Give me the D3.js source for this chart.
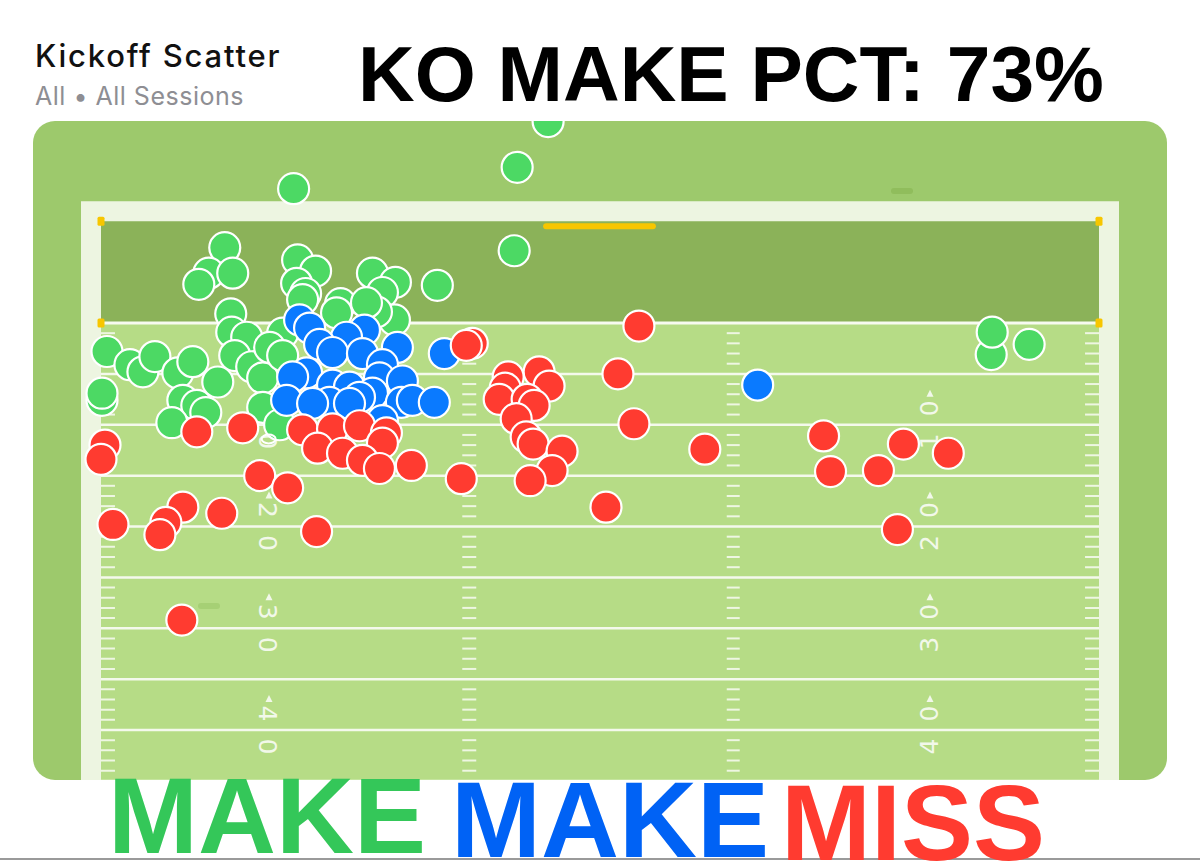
<!DOCTYPE html>
<html>
<head>
<meta charset="utf-8">
<style>
  html, body { margin: 0; padding: 0; background: #fff; }
  svg { display: block; }
</style>
</head>
<body>
<div id="chart"></div>
<script src="https://cdn.jsdelivr.net/npm/d3@7"></script>
<script>
// x = lateral spot, % of field width from the left sideline
// y = depth in yards from the goal line (negative = end zone and beyond)
const makeGreen = [
  [44.8, -19.8], [41.7, -15.3], [19.3, -13.2], [41.4, -7.1], [12.4, -7.4],
  [10.8, -4.9], [13.2, -4.9], [9.8, -3.8], [19.7, -6.2], [21.5, -5.1],
  [19.6, -3.9], [20.5, -2.9], [27.2, -4.9], [29.5, -4.0], [28.2, -3.0],
  [33.7, -3.7], [13.0, -0.9], [24.0, -1.9], [29.4, -0.3], [27.6, -1.1],
  [20.2, -2.3], [26.6, -2.0], [23.6, -1.0],
  [13.1, 0.9], [14.6, 1.4], [0.6, 2.8], [2.9, 4.1], [4.2, 4.8], [5.4, 3.3],
  [7.7, 4.9], [9.2, 3.8], [11.7, 5.8], [13.4, 3.2], [15.1, 4.3], [16.2, 5.4],
  [18.2, 1.0], [16.9, 2.4], [18.2, 3.2], [0.1, 7.6], [0.1, 6.9], [8.2, 7.6],
  [9.6, 8.1], [10.5, 8.8], [7.1, 9.8], [16.2, 8.3], [17.9, 10.0],
  [89.2, 3.1], [89.3, 0.9], [93.0, 2.1]
]

const makeBlue = [
  [19.9, -0.3], [20.9, 0.5], [26.4, 0.7], [24.6, 1.4], [29.7, 2.4], [21.9, 2.1],
  [23.2, 2.9], [26.2, 3.0], [28.2, 4.1], [34.4, 3.0], [20.6, 4.9], [19.2, 5.3],
  [27.9, 5.4], [23.2, 6.1], [24.9, 6.3], [30.2, 5.7], [27.2, 6.9], [25.9, 7.3],
  [18.6, 7.6], [22.9, 7.8], [21.2, 7.9], [24.9, 7.9], [30.1, 7.8], [31.2, 7.6],
  [33.4, 7.8], [28.2, 9.6], [65.8, 6.1]
]

const missRed = [
  [37.2, 2.0], [36.6, 2.2], [53.9, 0.3], [9.6, 10.7], [14.2, 10.3], [20.2, 10.5],
  [23.2, 10.4], [25.9, 10.1], [28.6, 10.8], [28.2, 11.8], [21.7, 12.3],
  [24.2, 12.8], [26.2, 13.5], [27.9, 14.3], [31.1, 14.0], [0.4, 12.0],
  [0.0, 13.4], [15.9, 15.0], [18.7, 16.2], [8.2, 18.1], [6.5, 19.6], [5.9, 20.8],
  [1.2, 19.8], [12.1, 18.7], [21.6, 20.5], [8.1, 29.2], [36.1, 15.3],
  [51.8, 5.0], [53.4, 9.9], [60.5, 12.4], [50.6, 18.1], [43.9, 4.8],
  [40.8, 5.3], [44.9, 6.2], [40.5, 6.4], [39.9, 7.5], [42.7, 7.5], [43.4, 8.1],
  [41.6, 9.4], [42.6, 11.2], [43.3, 11.9], [46.2, 12.6], [45.2, 14.5],
  [43.0, 15.5], [72.4, 11.1], [73.1, 14.6], [80.4, 11.9], [77.9, 14.5],
  [84.9, 12.8], [79.8, 20.3]
]

const yardNumbers = [10, 20, 30, 40]
const legendLabels = ['MAKE', 'MAKE', 'MISS']
const chartTitle = 'Kickoff Scatter'
const chartSubtitle = 'All \u2022 All Sessions'
const headline = 'KO MAKE PCT: 73%'

const width = 1200
const height = 861

const svg = d3.select('#chart').append('svg')
  .attr('width', width)
  .attr('height', height)

// scales
const x = d3.scaleLinear().domain([0, 100]).range([101, 1099])
const y = d3.scaleLinear().domain([0, 40]).range([323, 730])

const turf = { x: 33, y: 121, w: 1134, h: 659, r: 22 }
const fieldBottom = turf.y + turf.h

svg.append('defs').append('clipPath').attr('id', 'turf-clip')
  .append('rect')
  .attr('x', turf.x).attr('y', turf.y)
  .attr('width', turf.w).attr('height', turf.h)
  .attr('rx', turf.r)

// field
svg.append('rect')
  .attr('x', turf.x).attr('y', turf.y)
  .attr('width', turf.w).attr('height', turf.h)
  .attr('rx', turf.r)
  .attr('fill', '#9dc96c')

const field = svg.append('g').attr('clip-path', 'url(#turf-clip)')

// sideline / end line border
field.append('rect')
  .attr('x', x(0) - 20).attr('y', y(-10) - 20)
  .attr('width', x(100) - x(0) + 40)
  .attr('height', fieldBottom - y(-10) + 20)
  .attr('fill', '#edf5e1')

field.append('rect')
  .attr('x', x(0)).attr('y', y(-10))
  .attr('width', x(100) - x(0)).attr('height', y(0) - y(-10))
  .attr('fill', '#8bb259')

field.append('rect')
  .attr('x', x(0)).attr('y', y(0))
  .attr('width', x(100) - x(0)).attr('height', fieldBottom - y(0))
  .attr('fill', '#b6dc86')

// little markers on the turf
field.append('rect')
  .attr('x', 891).attr('y', 188).attr('width', 22).attr('height', 6).attr('rx', 3)
  .attr('fill', '#90bd5c')
field.append('rect')
  .attr('x', 198).attr('y', 603).attr('width', 22).attr('height', 6).attr('rx', 3)
  .attr('fill', '#a6d075')

// yard lines
field.selectAll('line.yard')
  .data(d3.range(5, 50, 5))
  .enter()
  .append('line')
  .attr('class', 'yard')
  .attr('x1', x(0)).attr('x2', x(100))
  .attr('y1', d => y(d)).attr('y2', d => y(d))
  .attr('stroke', '#f4f9ec')
  .attr('stroke-width', 2.5)

field.append('line')
  .attr('x1', x(0)).attr('x2', x(100))
  .attr('y1', y(0)).attr('y2', y(0))
  .attr('stroke', '#f7fbf1')
  .attr('stroke-width', 3)

// hash marks
const hashCols = [[0, 1.4], [36.2, 37.6], [62.7, 64.0], [98.6, 100]]
const hashYards = d3.range(1, 46).filter(d => d % 5 !== 0)
hashCols.forEach(([a, b]) => {
  field.append('g').selectAll('line')
    .data(hashYards)
    .enter()
    .append('line')
    .attr('x1', x(a)).attr('x2', x(b))
    .attr('y1', d => y(d)).attr('y2', d => y(d))
    .attr('stroke', '#eef6e2')
    .attr('stroke-width', 2)
})

// yard numbers, left reads downward, right reads upward
const numberSides = [
  { cx: 268, rot: 90 },
  { cx: 929, rot: -90 }
]
numberSides.forEach(side => {
  const g = field.append('g')
  const nums = g.selectAll('text')
    .data(yardNumbers)
    .enter()
    .append('text')
    .attr('transform', d => `translate(${side.cx}, ${y(d)}) rotate(${side.rot})`)
    .attr('text-anchor', 'middle')
    .attr('dominant-baseline', 'central')
    .attr('font-family', 'DejaVu Sans, sans-serif')
    .attr('font-size', 25)
    .attr('fill', '#f2f8ea')
  nums.append('tspan').text(d => String(d)[0])
  nums.append('tspan').attr('dx', 17).text(d => String(d)[1])

  g.selectAll('path')
    .data(yardNumbers)
    .enter()
    .append('path')
    .attr('transform', d => `translate(${side.cx + 1}, ${y(d) - 31})`)
    .attr('d', 'M0,-4 L3.5,3 L-3.5,3 Z')
    .attr('fill', '#f2f8ea')
})

// goal post
field.append('rect')
  .attr('x', x(44.3)).attr('y', y(-10) + 2)
  .attr('width', x(55.6) - x(44.3)).attr('height', 6)
  .attr('rx', 3)
  .attr('fill', '#f7c600')

// pylons
const pylons = [[0, -10], [0, 0], [100, -10], [100, 0]]
field.selectAll('rect.pylon')
  .data(pylons)
  .enter()
  .append('rect')
  .attr('class', 'pylon')
  .attr('x', d => x(d[0]) - 3.5).attr('y', d => y(d[1]) - 4.5)
  .attr('width', 7).attr('height', 9).attr('rx', 1.5)
  .attr('fill', '#f7c600')

// kicks
const series = [
  { data: makeGreen, color: '#4cd964' },
  { data: makeBlue, color: '#0a7aff' },
  { data: missRed, color: '#ff3b30' }
]
series.forEach(s => {
  field.append('g').selectAll('circle')
    .data(s.data)
    .enter()
    .append('circle')
    .attr('cx', d => x(d[0]))
    .attr('cy', d => y(d[1]))
    .attr('r', 15.5)
    .attr('fill', s.color)
    .attr('stroke', '#fff')
    .attr('stroke-width', 2.2)
})

// small ball ring
field.append('ellipse')
  .attr('cx', x(16.8)).attr('cy', y(11.4))
  .attr('rx', 7).attr('ry', 4.5)
  .attr('fill', 'none')
  .attr('stroke', '#fff')
  .attr('stroke-width', 2)

// header texts
svg.append('text')
  .attr('x', 35).attr('y', 67)
  .attr('font-family', 'Inter, Roboto, sans-serif')
  .attr('font-weight', 500)
  .attr('font-size', 31)
  .attr('letter-spacing', 1.8)
  .attr('fill', '#111')
  .text(chartTitle)

svg.append('text')
  .attr('x', 35).attr('y', 105)
  .attr('font-family', 'Inter, Roboto, sans-serif')
  .attr('font-size', 25)
  .attr('letter-spacing', 0.5)
  .attr('fill', '#8e8e93')
  .text(chartSubtitle)

svg.append('text')
  .attr('x', 358).attr('y', 101)
  .attr('font-family', 'Liberation Sans, Arial, sans-serif')
  .attr('font-weight', 700)
  .attr('font-size', 78.5)
  .attr('fill', '#000')
  .text(headline)

// bottom rule
svg.append('line')
  .attr('x1', 0).attr('x2', width)
  .attr('y1', 859).attr('y2', 859)
  .attr('stroke', '#9a9a9a')
  .attr('stroke-width', 2)

// legend words
const legendSpots = [
  { x: 108, y: 853, color: '#34c759' },
  { x: 451, y: 857, color: '#0062f5' },
  { x: 781, y: 860, color: '#ff3b30' }
]
svg.selectAll('text.legend')
  .data(legendLabels)
  .enter()
  .append('text')
  .attr('class', 'legend')
  .attr('x', (d, i) => legendSpots[i].x)
  .attr('y', (d, i) => legendSpots[i].y)
  .attr('font-family', 'Liberation Sans, Arial, sans-serif')
  .attr('font-weight', 700)
  .attr('font-size', 108)
  .attr('fill', (d, i) => legendSpots[i].color)
  .text(d => d)
</script>
</body>
</html>
